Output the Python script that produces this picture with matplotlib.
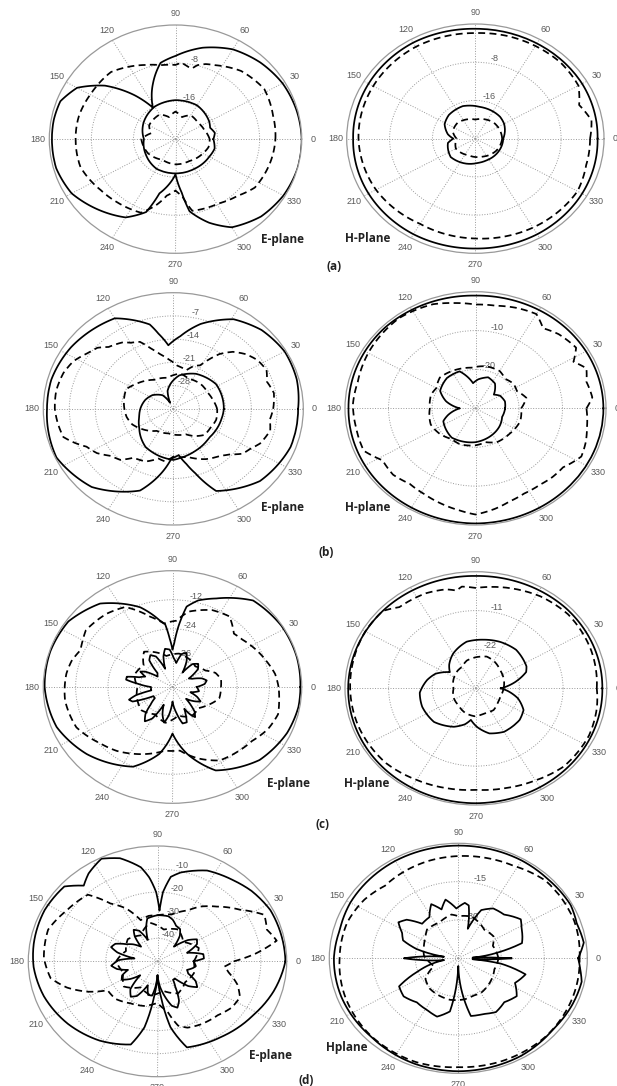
import numpy as np
import matplotlib
matplotlib.use('Agg')
import matplotlib.pyplot as plt

# radiation patterns: (angle deg, level dB)
# solid = co-pol big lobe / dashed = measured, *_x = cross-pol small curves

# ---- (a) ----
a_e_solid = [(0, 0), (15, -0.2), (30, -0.5), (45, -1.2), (60, -2.2), (75, -4.1), (90, -6.5), (100, -7.7),
             (105, -9.6), (110, -11.5), (118, -14.4), (123, -16.1), (130, -12), (140, -6.5), (150, -2.4),
             (160, -0.7), (170, -0.5), (180, -0.5), (195, -0.5), (210, -1.2), (225, -3.1), (240, -5.0),
             (250, -7.7), (255, -12.2), (270, -16.6), (276, -12.7), (280, -8.6), (290, -5.3), (300, -2.6),
             (315, -1.0), (330, -0.3), (345, 0)]
a_e_dash = [(0, -5.0), (15, -4.8), (32, -4.1), (49, -5.0), (64, -6.7), (70, -7.2), (75, -7.9), (78, -8.8),
            (81, -8.6), (86, -7.9), (90, -8.4), (100, -8.2), (110, -7.4), (131, -5.3), (149, -5.3), (165, -5.0),
            (176, -5.0), (198, -5.0), (217, -6.2), (230, -6.7), (247, -7.2), (255, -9.6), (262, -12),
            (270, -13.2), (276, -12), (282, -8.6), (301, -8.2), (315, -7.2), (326, -5.8), (346, -5.3)]
a_e_solid_x = [(0, -16.8), (10, -16.4), (20, -17.0), (30, -16.6), (60, -15.8), (90, -15.8), (120, -16.1),
               (150, -17.0), (180, -18.0), (210, -17.5), (240, -16.8), (270, -16.8), (300, -16.8),
               (330, -16.6), (345, -16.3)]
a_e_dash_x = [(0, -17.5), (20, -18.2), (40, -18.5), (60, -18.2), (75, -19.2), (90, -18.2), (105, -19.2),
              (120, -18.0), (150, -18.2), (165, -19.2), (180, -17.5), (210, -18.0), (240, -19.0),
              (270, -18.7), (300, -18.7), (330, -18.0), (345, -17.5)]

a_h_solid = [(0, -1.2), (30, -1.0), (60, -1.0), (90, -1.0), (120, -0.8), (150, -1.0), (180, -1.2),
             (210, -1.0), (240, -0.9), (270, -1.0), (300, -0.9), (330, -1.0)]
a_h_dash = [(0, -2.6), (10, -2.0), (20, -3.4), (30, -1.8), (45, -1.5), (60, -1.6), (75, -1.7), (90, -1.9),
            (120, -1.8), (150, -2.0), (180, -2.2), (210, -2.6), (240, -3.4), (270, -3.1), (300, -2.5),
            (330, -2.0), (345, -2.6)]
a_h_solid_x = [(0, -18.8), (30, -17.8), (45, -17.5), (83, -17.3), (109, -16.8), (135, -17.0), (152, -17.5),
               (170, -18.8), (180, -19.9), (190, -18.8), (220, -18.0), (252, -18.5), (275, -18.9),
               (294, -19.0), (330, -18.9)]
a_h_dash_x = [(0, -19.0), (45, -19.2), (90, -20.0), (135, -19.3), (160, -19.5), (180, -20.5), (210, -19.8),
              (250, -20.3), (290, -20.0), (330, -19.3)]

# ---- (b) ----
b_e_solid = [(0, -1.4), (15, -0.6), (30, -0.4), (45, -1.4), (59, -3.5), (74, -8.4), (85, -13), (94, -15.8),
             (100, -12), (104, -8.8), (120, -3.5), (146, -1.8), (165, -1.0), (180, -1.0), (205, -0.3),
             (227, -2.8), (250, -8.8), (260, -15), (268, -20), (276, -21), (282, -18), (287, -14.7),
             (295, -7.7), (317, -3.1), (340, -1.4)]
b_e_dash = [(0, -8.1), (10, -7.5), (18, -8.5), (25, -7.3), (33, -8.0), (40, -9.4), (47, -11.5), (53, -14.3),
            (61, -20), (67, -21), (73, -22.8), (85, -22), (95, -20), (102, -18.2), (108, -16), (114, -12.9),
            (120, -12), (124, -10.8), (133, -9.5), (138, -7.5), (143, -6.7), (152, -4.5), (160, -3.5),
            (170, -3.0), (180, -3.1), (188, -3.6), (196, -4.2), (201, -6.5), (206, -9), (213, -10.5),
            (220, -13), (227, -14), (234, -16.8), (245, -17.5), (255, -19.5), (262, -19), (270, -20.6),
            (285, -20), (300, -17.5), (312, -16), (318, -14.5), (324, -12), (330, -11), (336, -9.4),
            (346, -8.1), (353, -8.8)]
b_e_solid_x = [(0, -21.4), (33, -21.3), (60, -22.8), (81, -24.8), (95, -27.3), (106, -29.4), (115, -33),
               (125, -30), (144, -28), (160, -27), (178, -26.2), (195, -25.5), (212, -24.2), (237, -21.3),
               (255, -20.3), (270, -19.6), (276, -20.0), (295, -21), (318, -22), (345, -21.7)]
b_e_dash_x = [(0, -23.2), (14, -24), (27, -24.5), (46, -24.5), (66, -25), (80, -24.2), (100, -25.5),
              (121, -24.8), (143, -22.5), (155, -21), (170, -21.5), (191, -22.2), (203, -23), (215, -24.5),
              (236, -27), (260, -27.5), (280, -27), (294, -26.6), (305, -25), (317, -23.5), (330, -23.5),
              (344, -23)]

b_h_solid = [(0, -0.6), (45, -0.7), (90, -1.0), (135, -0.6), (180, -0.8), (225, -0.6), (270, -0.4),
             (315, -0.6)]
b_h_dash = [(0, -4.5), (6, -3.0), (15, -3.6), (22, -2.5), (28, -4.5), (34, -2.1), (45, -3.0), (53, -4.2),
            (60, -2.0), (70, -2.5), (80, -3.2), (90, -3.3), (100, -2.5), (110, -1.5), (127, -0.9),
            (149, -1.5), (166, -2.1), (178, -1.8), (190, -2.1), (203, -2.1), (212, -4.8), (222, -4.5),
            (232, -5.4), (242, -5.0), (253, -4.2), (262, -3.5), (270, -2.7), (280, -3.8), (288, -4.8),
            (297, -5.4), (307, -5.4), (315, -5.0), (323, -4.8), (333, -2.7), (341, -3.2), (349, -3.9)]
b_h_solid_x = [(0, -23.2), (15, -23.0), (30, -23.5), (40, -24.5), (55, -22.2), (70, -21.5), (85, -22.5),
               (95, -23.5), (111, -19.8), (130, -19.8), (151, -20.7), (165, -23), (180, -26.4), (195, -23.5),
               (204, -21.9), (234, -20.7), (270, -21.3), (300, -22.2), (320, -22.8), (340, -23.5)]
b_h_dash_x = [(0, -19.5), (13, -18.0), (25, -19.5), (36, -19.2), (48, -19.8), (60, -18.9), (77, -18.9),
              (95, -19.5), (110, -19.2), (136, -18.6), (150, -19.6), (161, -19.2), (180, -19.5), (202, -18.9),
              (219, -19.5), (235, -20.4), (249, -20.1), (270, -20.5), (285, -21.0), (300, -20.0),
              (320, -19.8), (342, -19.2)]

# ---- (c) ----
c_e_solid = [(0, -0.5), (15, -0.2), (32, -0.3), (50, -1.4), (66, -8), (75, -11), (81, -14.4), (85, -23),
             (88, -30), (90, -32.6), (93, -28), (96, -22), (100, -20), (110, -13), (128, -4.3), (145, -0.8),
             (162, -0.3), (180, -0.5), (201, -1.9), (221, -5.8), (246, -12), (260, -20), (270, -28.8),
             (281, -20), (295, -10), (317, -3.8), (336, -1.4), (350, -0.5)]
c_e_dash = [(0, -8.6), (8, -9.5), (17, -11.5), (29, -13.9), (37, -15.5), (44, -16.3), (54, -12), (65, -13),
            (79, -16.3), (87, -20.6), (97, -21.6), (106, -17.8), (118, -10.6), (129, -9.1), (144, -8.2),
            (150, -9.5), (156, -10.6), (164, -9), (172, -8.2), (188, -7.7), (205, -8.6), (221, -12.5),
            (232, -14.5), (242, -16.8), (252, -19), (264, -21.6), (276, -21.6), (288, -17), (300, -13),
            (312, -12), (323, -11), (334, -8.5), (344, -7.2), (352, -8)]
c_e_solid_x = [(0, -39), (6, -36), (12, -35), (18, -36.5), (25, -40), (30, -41), (38, -36), (45, -34.5),
               (52, -36), (58, -41), (64, -36), (70, -33), (76, -34), (82, -38), (88, -36), (94, -32.5),
               (100, -32), (105, -35), (110, -40), (116, -34), (122, -32.5), (128, -34), (134, -40),
               (142, -41), (148, -36), (152, -34.5), (157, -37), (162, -35), (166, -30.5), (170, -30.5),
               (174, -35), (180, -40), (190, -40), (194, -34), (198, -31), (202, -32), (208, -40), (215, -40),
               (222, -37), (228, -33), (234, -30.5), (240, -33), (246, -40), (252, -36), (258, -33),
               (263, -36), (270, -42), (278, -37), (284, -32.5), (290, -32.5), (296, -38), (300, -35),
               (304, -33), (309, -35), (316, -41), (324, -38), (330, -36), (336, -38), (342, -41), (350, -38)]
c_e_dash_x = [(0, -30), (10, -29.7), (20, -31), (29, -34), (45, -36), (60, -35), (80, -34), (100, -35),
              (126, -30), (140, -34), (160, -33), (180, -35), (200, -34), (220, -33), (240, -35), (260, -33),
              (280, -36), (300, -34), (318, -35), (330, -33), (345, -30)]

c_h_solid = [(0, -1.1), (45, -0.9), (90, -1.2), (135, -0.9), (180, -0.8), (225, -0.6), (270, -0.5),
             (315, -0.8)]
c_h_dash = [(0, -2.5), (20, -2.0), (42, -1.7), (58, -2.3), (75, -3.5), (90, -4.6), (97, -4.0), (100, -4.9),
            (105, -4.0), (115, -3.3), (130, -3.0), (137, -0.9), (150, -0.8), (165, -1.1), (180, -1.3),
            (200, -1.5), (223, -2.0), (240, -3.1), (255, -3.8), (270, -4.3), (285, -3.8), (299, -3.0),
            (315, -1.7), (335, -1.5), (350, -2.0)]
c_h_solid_x = [(0, -26.7), (10, -23), (20, -19.5), (26, -18.8), (47, -18.1), (65, -18.5), (82, -19.1),
               (100, -19.6), (120, -21.6), (135, -23.5), (145, -25), (158, -22), (169, -20.5), (185, -18.8),
               (201, -18.5), (222, -18.8), (243, -20.8), (255, -22.5), (262, -24), (272, -22), (285, -19.8),
               (300, -18.8), (321, -18.8), (333, -19.5), (345, -22), (355, -25)]
c_h_dash_x = [(0, -26), (20, -25.5), (40, -25), (60, -24), (73, -23.6), (90, -24.2), (106, -24.8),
              (120, -26), (132, -26.2), (155, -26.8), (180, -27.4), (205, -26.8), (228, -26.5), (250, -25.5),
              (268, -25.1), (288, -25.6), (306, -25.4), (325, -26.2), (340, -26.4)]

# ---- (d) ----
d_e_solid = [(0, -0.5), (15, -0.8), (27, -1.0), (40, -2.5), (50, -4.2), (64, -6.2), (77, -10.5), (82, -13),
             (86, -20), (88, -28), (91, -20), (95, -13.5), (99, -8.7), (108, -3), (116, -0.5), (125, -3.5),
             (131, -6.5), (138, -1.5), (153, -1.0), (171, -1.5), (183, -2.0), (199, -3.5), (218, -6.0),
             (237, -9.0), (254, -12.5), (260, -21), (265, -34.5), (270, -44), (275, -34.5), (280, -21),
             (287, -11), (307, -9), (328, -6.2), (344, -3.2)]
d_e_dash = [(0, -20.5), (5, -12), (11, -3), (18, -5.5), (26, -4), (35, -11), (46, -17), (55, -21), (62, -25),
            (75, -29), (90, -30), (100, -30), (110, -31), (118, -24), (126, -19), (133, -10.5), (148, -8.5),
            (162, -5.5), (178, -6), (190, -8), (198, -13.2), (206, -20), (213, -27), (225, -27), (240, -29),
            (255, -30), (270, -32), (280, -28), (286, -21), (292, -19), (301, -18), (315, -17), (325, -15),
            (334, -14.5), (342, -17.5), (350, -22), (355, -24)]
d_e_solid_x = [(0, -36), (4, -32), (10, -32), (18, -38), (26, -33), (32, -32), (38, -35), (45, -41),
               (52, -36), (58, -33.5), (65, -33), (72, -31), (78, -30), (90, -30), (102, -31), (107, -35),
               (112, -40), (118, -35), (124, -33.5), (129, -36), (135, -41), (142, -38), (148, -36),
               (155, -32), (161, -31), (166, -34), (172, -41), (178, -35), (186, -32), (192, -34), (198, -38),
               (204, -35), (210, -34), (216, -37), (222, -41), (229, -34), (236, -31.5), (242, -33),
               (250, -39), (256, -35), (262, -35), (266, -39), (270, -44), (275, -39), (280, -35),
               (286, -30), (291, -28.5), (296, -31), (302, -37), (307, -40), (312, -40), (318, -34),
               (324, -31), (330, -33), (336, -37), (342, -38), (348, -36), (352, -35)]
d_e_dash_x = [(0, -36), (20, -33), (40, -37), (60, -34), (80, -36), (100, -33), (120, -37), (140, -35),
              (160, -37), (180, -34), (200, -36), (220, -33), (240, -37), (260, -35), (280, -37), (300, -34),
              (320, -36), (340, -35)]

d_h_solid = [(0, -3.2), (8, -0.8), (18, -1.5), (28, -0.6), (45, -1.0), (60, -0.8), (90, -0.9), (120, -1.0),
             (150, -1.5), (165, -2.2), (180, -1.6), (200, -1.5), (225, -1.8), (250, -1.0), (270, -0.8),
             (300, -1.0), (320, -1.8), (335, -1.3), (348, -1.0), (354, -2.2)]
d_h_dash = [(0, -2.7), (20, -2.0), (45, -2.0), (62, -4.0), (75, -4.5), (90, -5.0), (105, -5.5), (120, -6.2),
            (132, -6.8), (145, -5), (160, -3.8), (180, -3.6), (200, -2.8), (225, -2.0), (250, -1.8),
            (270, -2.4), (290, -2.0), (315, -1.8), (340, -2.3)]
d_h_solid_x = [(0, -26.5), (3, -40), (10, -30), (15, -22), (20, -21.2), (28, -20), (35, -18.4), (47, -21.6),
               (58, -22), (67, -24.5), (74, -33), (80, -24), (84, -23.2), (92, -25.5), (101, -21.6),
               (107, -25), (114, -21.8), (122, -26), (133, -26.5), (140, -21.5), (146, -19.8), (153, -23),
               (160, -24.5), (166, -30), (173, -40), (177, -32), (180, -26), (183, -32), (188, -40),
               (195, -34), (200, -30), (208, -21.6), (218, -20.8), (230, -22.5), (242, -22), (252, -21),
               (262, -24), (268, -38), (270, -42), (272, -38), (281, -22), (292, -21.5), (302, -20.2),
               (313, -21.5), (324, -19.8), (334, -23), (345, -20.7), (352, -30), (356, -40)]
d_h_dash_x = [(0, -31), (22, -32), (35, -30), (51, -30.6), (65, -29), (75, -28), (90, -28.5), (98, -27.7),
              (115, -29.5), (134, -29.3), (145, -31), (157, -32), (175, -33), (190, -35), (200, -36),
              (215, -31), (230, -29.5), (244, -29), (260, -28.5), (278, -28.8), (290, -29.5), (300, -29.3),
              (320, -30.5), (341, -31.7)]

# radial axis floor and labelled rings per panel
a_e_rings = [-24, [-16, -8]]
a_h_rings = [-24, [-16, -8]]
b_e_rings = [-35, [-28, -21, -14, -7]]
b_h_rings = [-30, [-20, -10]]
c_e_rings = [-48, [-36, -24, -12]]
c_h_rings = [-33, [-22, -11]]
d_e_rings = [-50, [-40, -30, -20, -10]]
d_h_rings = [-45, [-30, -15]]

W, H = 617, 1086


def px_rect(x0, y0, x1, y1):
    return [x0 / W, 1 - y1 / H, (x1 - x0) / W, (y1 - y0) / H]


def closed(pts):
    ang = [p[0] for p in pts] + [pts[0][0] + 360]
    db = [p[1] for p in pts] + [pts[0][1]]
    return np.deg2rad(ang), np.array(db, dtype=float)


def draw_panel(fig, rect, rings, curves):
    rmin, rticks = rings
    ax = fig.add_axes(rect, projection='polar')
    ax.set_aspect('auto')
    ax.set_ylim(rmin, 0)
    ax.set_yticks(rticks)
    ax.set_yticklabels([str(t) for t in rticks])
    ax.set_rlabel_position(80)
    ax.set_thetagrids(np.arange(0, 360, 30), [str(a) for a in range(0, 360, 30)])
    ax.grid(True, linestyle=':', color='0.6', linewidth=0.7)
    ax.tick_params(axis='x', pad=-2.5, labelsize=6.5, labelcolor='0.35')
    ax.tick_params(axis='y', labelsize=6.5, labelcolor='0.35')
    for lab in ax.get_xticklabels() + ax.get_yticklabels():
        lab.set_family('Liberation Sans')
    ax.spines['polar'].set_color('0.6')
    ax.spines['polar'].set_linewidth(0.9)
    for pts, ls in curves:
        th, r = closed(pts)
        ln, = ax.plot(th, r, color='black', linestyle=ls, linewidth=1.25)
        # draw each segment as a polar arc instead of a straight chord
        ln.get_path()._interpolation_steps = 24
    return ax


dash = (0, (4, 2.5))
fig = plt.figure(figsize=(W / 100, H / 100), dpi=100)

draw_panel(fig, px_rect(49.3, 25, 301.7, 253.3), a_e_rings,
           [(a_e_solid, '-'), (a_e_dash, dash), (a_e_solid_x, '-'), (a_e_dash_x, dash)])
draw_panel(fig, px_rect(346.7, 24, 604, 253.3), a_h_rings,
           [(a_h_solid, '-'), (a_h_dash, dash), (a_h_solid_x, '-'), (a_h_dash_x, dash)])
draw_panel(fig, px_rect(43.3, 292.7, 303.3, 525), b_e_rings,
           [(b_e_solid, '-'), (b_e_dash, dash), (b_e_solid_x, '-'), (b_e_dash_x, dash)])
draw_panel(fig, px_rect(345, 291.7, 606, 525), b_h_rings,
           [(b_h_solid, '-'), (b_h_dash, dash), (b_h_solid_x, '-'), (b_h_dash_x, dash)])
draw_panel(fig, px_rect(43.3, 570.7, 301.7, 803.3), c_e_rings,
           [(c_e_solid, '-'), (c_e_dash, dash), (c_e_solid_x, '-'), (c_e_dash_x, dash)])
draw_panel(fig, px_rect(345, 571.7, 606.7, 805), c_h_rings,
           [(c_h_solid, '-'), (c_h_dash, dash), (c_h_solid_x, '-'), (c_h_dash_x, dash)])
draw_panel(fig, px_rect(28.3, 846, 286.7, 1076.7), d_e_rings,
           [(d_e_solid, '-'), (d_e_dash, dash), (d_e_solid_x, '-'), (d_e_dash_x, dash)])
draw_panel(fig, px_rect(329.3, 843.3, 587.3, 1073.3), d_h_rings,
           [(d_h_solid, '-'), (d_h_dash, dash), (d_h_solid_x, '-'), (d_h_dash_x, dash)])

# plane names and sub-figure tags
labels = [('E-plane', 283, 240), ('H-Plane', 368, 239), ('(a)', 334, 267),
          ('E-plane', 283, 508), ('H-plane', 368, 508), ('(b)', 326, 552),
          ('E-plane', 288, 783), ('H-plane', 367, 783), ('(c)', 322, 824),
          ('E-plane', 270, 1055), ('Hplane', 347, 1047), ('(d)', 306, 1080)]
for txt, x, y in labels:
    fig.text(x / W, 1 - y / H, txt, ha='center', va='center', fontsize=8.5,
             fontweight='bold', family='Open Sans', color='#222222')

fig.savefig('out.png', dpi=100)
